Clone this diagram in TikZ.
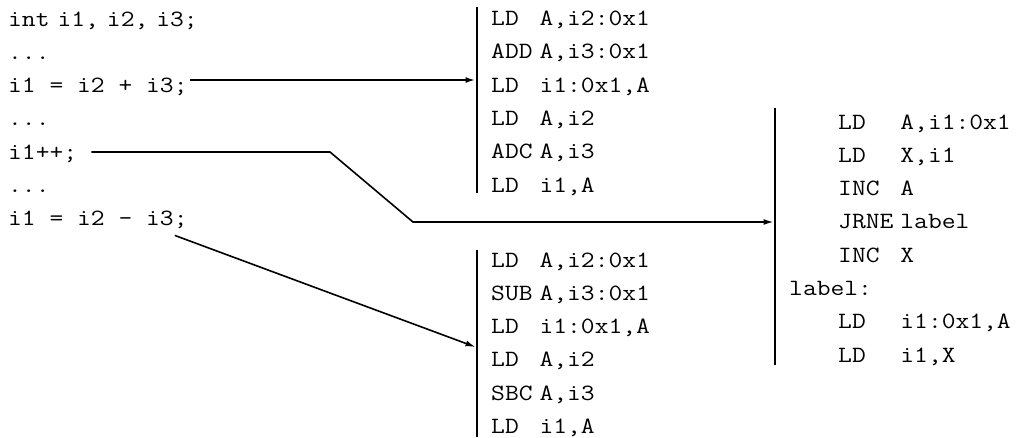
\documentclass[tikz,border=0pt]{standalone}
\usepackage{fontspec}
\setmonofont[FakeStretch=1.15]{Latin Modern Mono}
\usetikzlibrary{arrows.meta}

\newcommand\codedots{...}

\begin{document}
\begin{tikzpicture}
      [x=1pt,y=-1pt,
       code/.style={font=\ttfamily\fontsize{23.3}{33.33}\selectfont,inner sep=0pt,anchor=base west},
       bar/.style={line width=2.6pt},
       arr/.style={line width=1.6pt,-{Latex[length=10pt,width=6pt]}}]
      \useasboundingbox (0,0) rectangle (1019,437);

      % C source on the left
      \foreach \txt [count=\i] in {{int\hspace{8pt}i1,\hspace{8pt}i2,\hspace{8pt}i3;}, \codedots,
                                   {i1 = i2 + i3;}, \codedots, {i1++;}, \codedots, {i1 = i2 - i3;}}
        \node[code] (src\i) at (8,{26+33.33*(\i-1)}) {\txt};

      % generated code
      \node[code] (addblk) at (491,25.5) {\begin{tabular}[t]{@{}l@{\hspace{7pt}}l@{}}
        LD & A,i2:0x1\\ ADD & A,i3:0x1\\ LD & i1:0x1,A\\
        LD & A,i2\\ ADC & A,i3\\ LD & i1,A
      \end{tabular}};
      \node[code] (subblk) at (491,267) {\begin{tabular}[t]{@{}l@{\hspace{7pt}}l@{}}
        LD & A,i2:0x1\\ SUB & A,i3:0x1\\ LD & i1:0x1,A\\
        LD & A,i2\\ SBC & A,i3\\ LD & i1,A
      \end{tabular}};
      \node[code] (incblk) at (838,129) {\begin{tabular}[t]{@{}l@{\hspace{7pt}}l@{}}
        LD & A,i1:0x1\\ LD & X,i1\\ INC & A\\ JRNE & label\\ INC & X\\
        \hspace*{-49pt}label: & \\ LD & i1:0x1,A\\ LD & i1,X
      \end{tabular}};

      \draw[bar] (477,7) -- (477,193);
      \draw[bar] (477,250) -- (477,437);
      \draw[bar] (775,108) -- (775,365);

      \coordinate (addin) at (475.5,80);
      \coordinate (bend1) at (330,152);
      \coordinate (bend2) at (413,222);
      \coordinate (incin) at (773.5,222);
      \coordinate (subin) at (475.5,347);

      \draw[arr,line width=2.2pt] ([xshift=2pt]src3.east |- addin) -- (addin);
      \draw[arr] ([xshift=14pt]src5.east |- bend1) -- (bend1) -- (bend2) -- (incin);
      \draw[arr] ([shift={(-13,6)}]src7.south east) -- (subin);
    \end{tikzpicture}
\end{document}
